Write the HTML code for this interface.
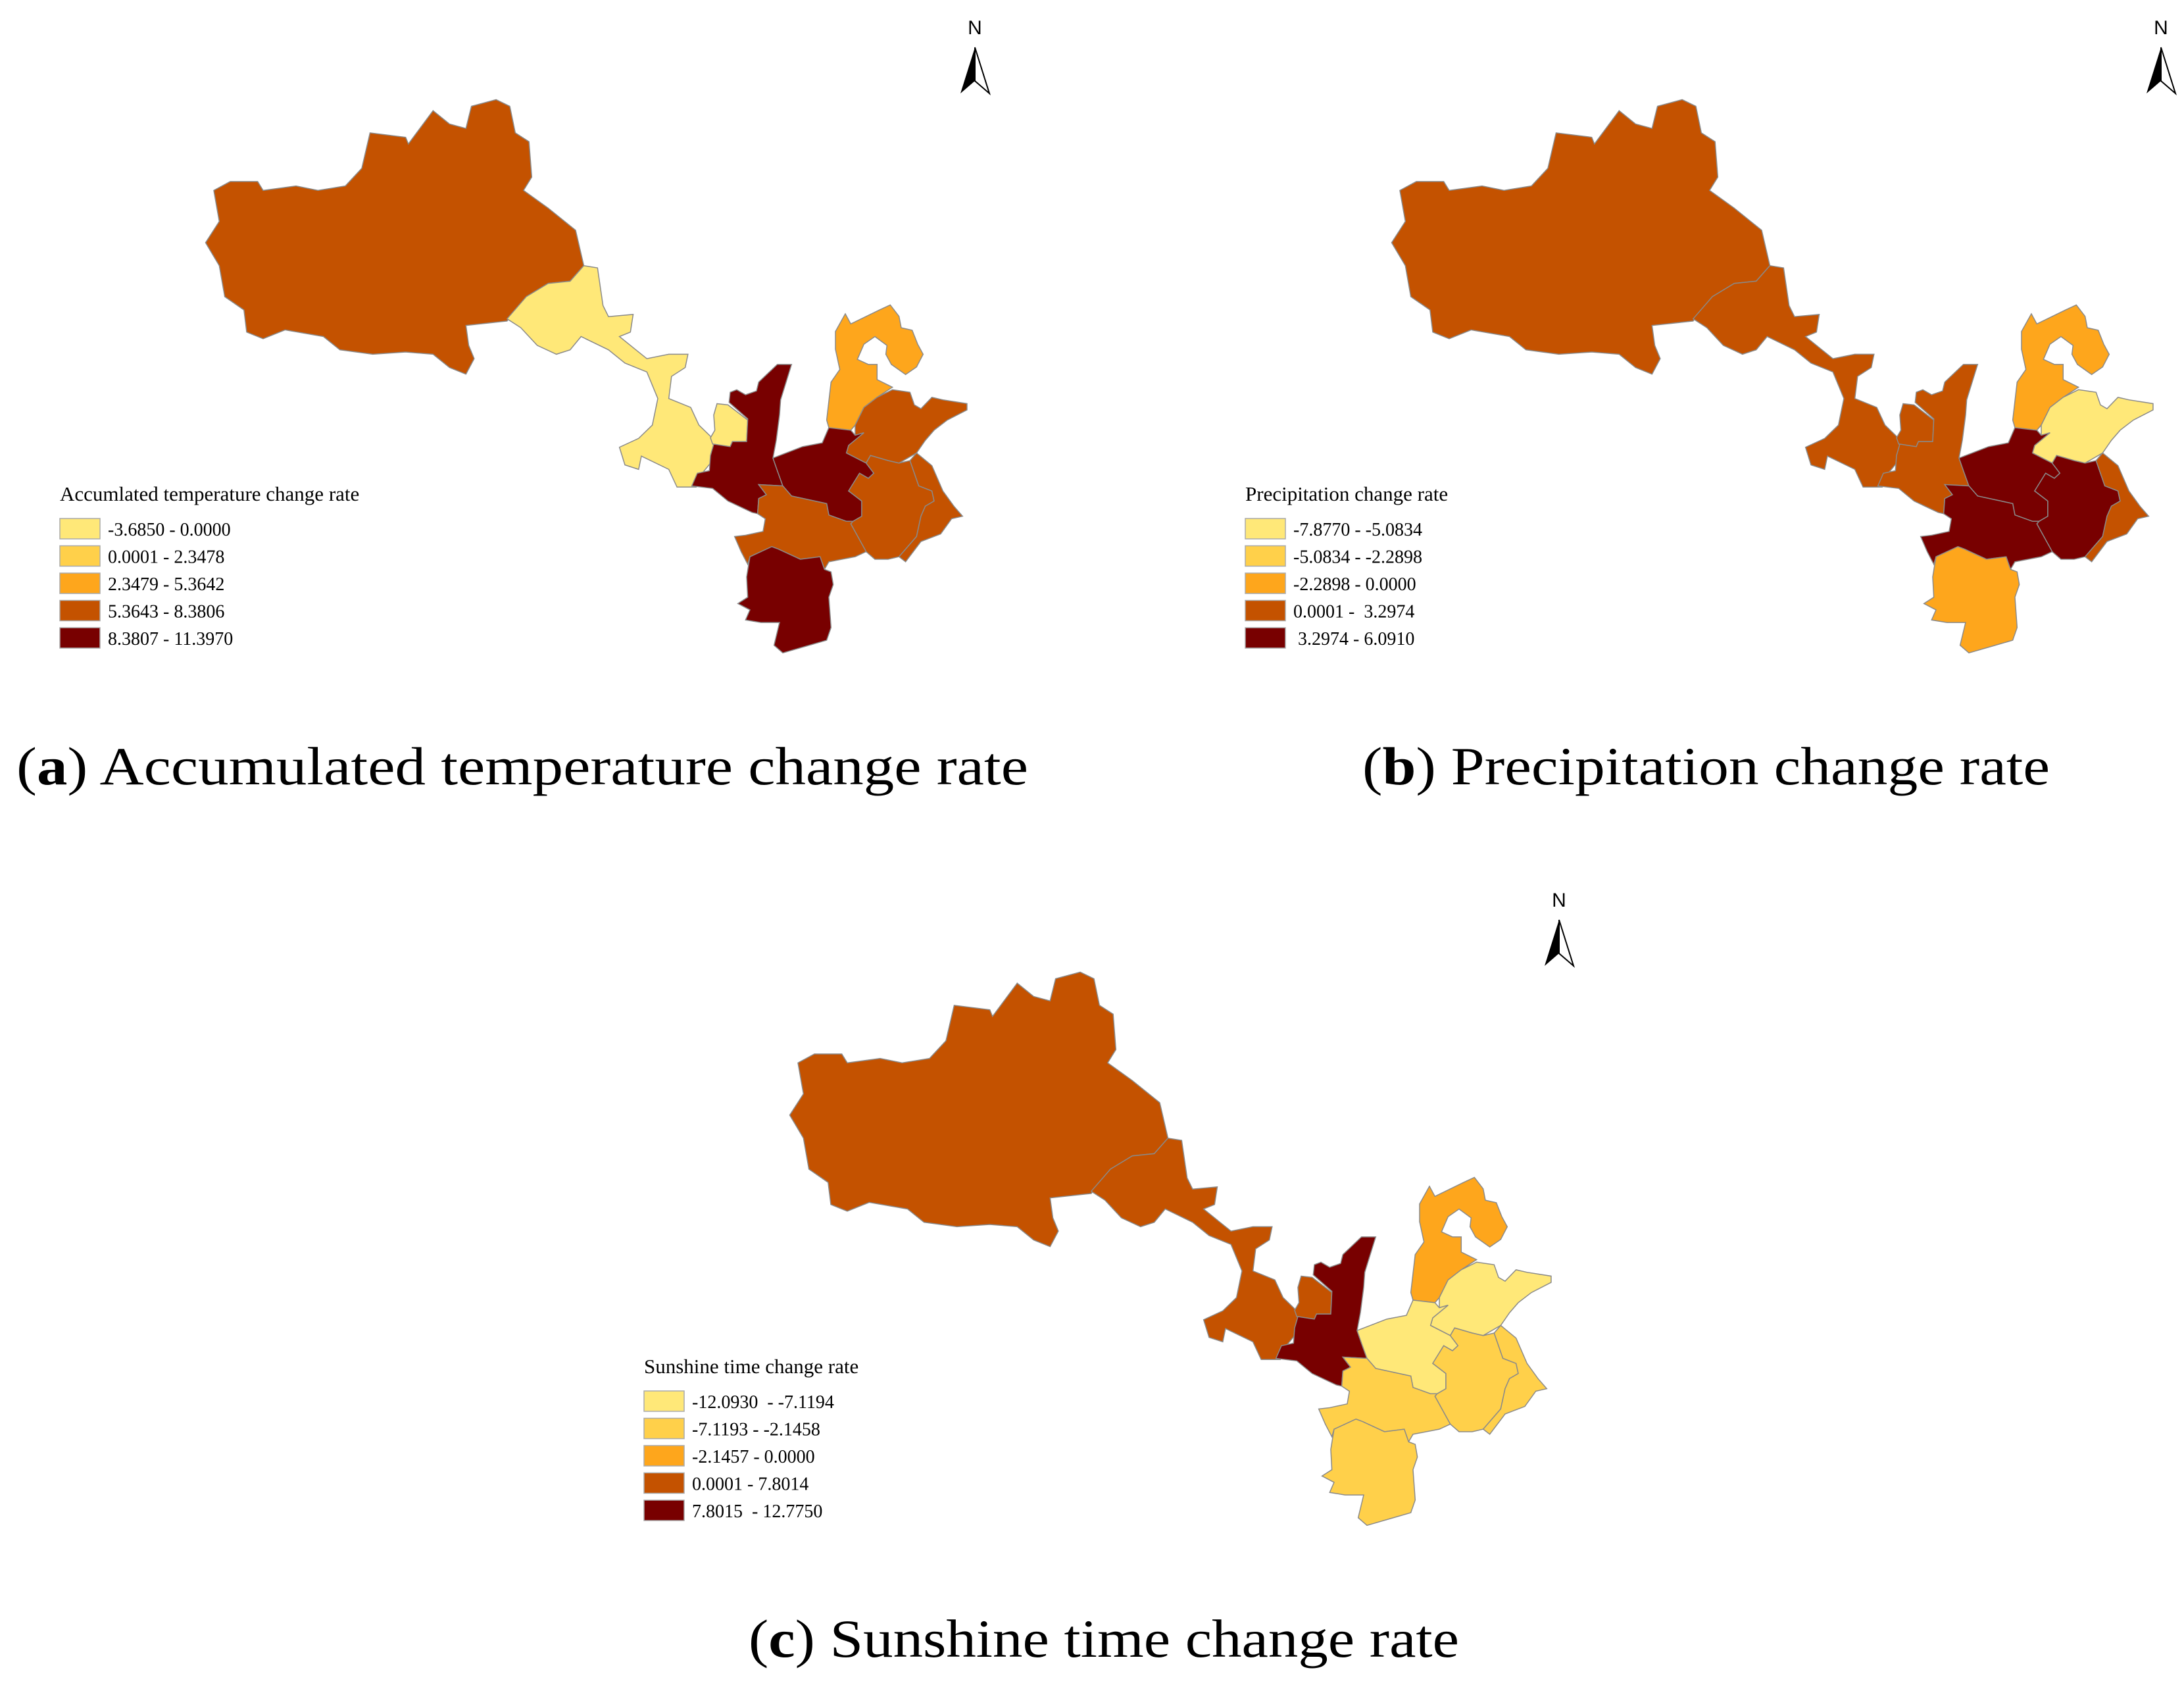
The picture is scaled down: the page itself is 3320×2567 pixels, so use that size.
<!DOCTYPE html>
<html><head><meta charset="utf-8"><style>
html,body{margin:0;padding:0;background:#fff;}
svg{display:block;}
text{font-family:"Liberation Serif",serif;fill:#000;}
</style></head><body>
<svg id="fig" width="3320" height="2567" viewBox="0 0 3320 2567" xmlns="http://www.w3.org/2000/svg">
<rect width="3320" height="2567" fill="#fff"/>
<defs>
<g id="arrow">
<text x="0" y="0" font-size="30" text-anchor="middle" style="font-family:'Liberation Sans',sans-serif">N</text>
<polygon points="0,20 -22,90 0,71" fill="#000"/>
<polygon points="0,20 22,90 0,71" fill="#fff" stroke="#000" stroke-width="2"/>
</g>
</defs>
</svg>
<script>
const colors = ['#ffe878','#ffd04a','#fea61c','#c45200','#780000'];
const regionNames = ['qinghai','gansu','ningxia','shaanxi','hebei','shandong','henan','east-west','east-east','south-central','south'];
const classA = [3,0,0,4,2,3,4,3,3,3,4];
const classB = [3,3,3,3,2,0,4,4,3,4,2];
const classC = [3,3,3,4,2,0,0,1,1,1,1];
const legendA = ['-3.6850 - 0.0000','0.0001 - 2.3478','2.3479 - 5.3642','5.3643 - 8.3806','8.3807 - 11.3970'];
const legendB = ['-7.8770 - -5.0834','-5.0834 - -2.2898','-2.2898 - 0.0000','0.0001 -  3.2974',' 3.2974 - 6.0910'];
const legendC = ['-12.0930  - -7.1194','-7.1193 - -2.1458','-2.1457 - 0.0000','0.0001 - 7.8014','7.8015  - 12.7750'];

// shapes: [frame, points]; frame 1 = zoom1 coords, frame 2 = zoom2 coords
const shapes = [
 [1,'75,548 100,500 90,430 120,410 170,410 180,430 240,420 280,430 330,420 360,380 375,300 440,310 445,325 490,250 520,280 550,290 560,240 605,225 630,240 640,300 665,320 670,400 655,430 700,470 750,520 765,600 740,635 700,640 660,670 625,725 550,735 555,780 565,810 550,845 520,830 490,800 440,795 380,800 320,790 290,760 220,745 180,765 150,750 145,700 110,670 100,600'],
 [1,'625,720 660,670 700,640 740,635 765,600 790,605 800,690 810,715 855,710 850,750 830,760 860,790 880,810 920,800 955,800 950,830 925,850 920,900 960,920 975,960 1000,990 1010,950 1015,920 1050,935 1070,990 1060,1000 1005,1000 1000,1040 980,1070 970,1100 935,1100 920,1060 870,1030 865,1060 840,1050 830,1010 865,990 890,960 900,900 880,840 840,820 810,790 760,760 740,790 715,800 680,780 650,740'],
 [2,'270,555 320,560 410,620 405,705 340,705 330,725 250,715 240,690 260,660 255,600'],
 [2,'330,510 325,550 410,615 405,705 340,705 330,725 255,715 240,760 235,820 180,830 155,880 250,890 320,940 430,985 455,990 460,930 495,915 460,875 570,880 545,820 525,770 540,700 555,600 560,540 610,400 545,400 460,470 450,505 400,520 360,500'],
 [2,'770,620 790,470 830,420 810,340 810,270 855,200 880,240 1010,185 1060,165 1100,210 1110,255 1160,265 1185,320 1210,360 1180,410 1130,440 1065,400 1040,360 1045,325 990,290 940,320 910,380 960,400 1000,400 1000,460 1070,490 1000,530 940,570 900,640 880,660 780,650'],
 [2,'900,640 940,570 1000,530 1070,500 1150,510 1170,560 1200,575 1250,530 1300,540 1410,555 1410,580 1320,620 1260,660 1220,700 1180,750 1100,790 1050,780 970,760 950,790 860,750 870,720 940,670 900,680'],
 [2,'525,770 600,745 660,725 750,710 780,650 880,660 900,680 940,670 870,720 860,750 950,790 985,830 960,850 920,830 870,900 930,940 930,1000 890,1020 860,1020 780,995 770,950 610,920 570,880 545,820'],
 [2,'950,790 985,830 960,850 920,830 870,900 930,940 930,1000 890,1020 880,1030 950,1140 990,1170 1050,1170 1100,1160 1180,1080 1200,1000 1220,960 1260,940 1250,900 1190,880 1150,780 1100,790 1050,780 970,760'],
 [2,'1150,780 1180,750 1250,800 1300,900 1350,960 1390,1000 1340,1010 1290,1070 1200,1100 1130,1180 1100,1160 1180,1080 1200,1000 1220,960 1260,940 1250,900 1190,880'],
 [2,'460,875 570,880 610,920 770,950 780,995 860,1020 890,1020 880,1030 950,1140 900,1160 780,1180 760,1210 740,1160 650,1170 550,1130 520,1120 420,1160 410,1190 380,1140 350,1080 400,1075 480,1060 490,1010 455,990 460,930 495,915'],
 [2,'420,1160 520,1120 550,1130 650,1170 740,1160 760,1210 790,1220 800,1270 780,1320 790,1440 770,1490 690,1510 570,1540 530,1510 555,1420 470,1420 400,1410 420,1370 365,1345 410,1320 405,1240']
];
const NS='http://www.w3.org/2000/svg';
const svg=document.getElementById('fig');
function mk(tag,attrs,parent){const e=document.createElementNS(NS,tag);for(const k in attrs)e.setAttribute(k,attrs[k]);(parent||svg).appendChild(e);return e;}
const frames={1:'translate(250,0) scale(0.8333,0.673)',2:'translate(1000,400) scale(0.3333,0.3846)'};
const drawOrder=[0,1,2,3,4,5,6,7,8,9,10];
const panels=[
 {key:'a',dx:0,dy:0,cls:classA,leg:legendA,title:'Accumlated temperature change rate',cap:' Accumulated temperature change rate',capX:25,capW:1538,capY:1192},
 {key:'b',dx:1803,dy:0,cls:classB,leg:legendB,title:'Precipitation change rate',cap:' Precipitation change rate',capX:2071,capW:1045,capY:1192},
 {key:'c',dx:888,dy:1326,cls:classC,leg:legendC,title:'Sunshine time change rate',cap:' Sunshine time change rate',capX:1138,capW:1080,capY:2518}
];
panels.forEach(p=>{
 const g=mk('g',{transform:`translate(${p.dx},${p.dy})`});
 
 
 drawOrder.forEach(i=>{
  const s=shapes[i];
  const sub=mk('g',{transform:frames[s[0]]},g);
  const poly=mk('polygon',{points:s[1],fill:colors[p.cls[i]],stroke:'#8a8a8a','stroke-width':'1.5','vector-effect':'non-scaling-stroke'},sub);
  
  
 });
 const ar=mk('use',{href:'#arrow',transform:'translate(1482,52)'},g);
 
 
 // legend
 const lg=mk('g',{},g);
 
 
 const lx = p.key==='a'?91:(p.key==='b'?1893-p.dx:979-p.dx);
 const ly = p.key==='c'?2078-1326-750+750:750;
 const t=mk('text',{x:lx,y:761,'font-size':31},lg);
 t.textContent=p.title;
 
 
 p.leg.forEach((lab,k)=>{
  const r=mk('rect',{x:lx,y:788+k*41.5,width:61,height:31,fill:colors[k],stroke:'#aaa','stroke-width':1.5},lg);
  
  
  const tx=mk('text',{x:lx+73,y:814+k*41.5,'font-size':28,'xml:space':'preserve'},lg);
  tx.style.whiteSpace='pre';
  tx.textContent=lab;
  
  
 });
 // caption
 const c=mk('text',{x:p.capX,y:p.capY,'font-size':82,textLength:p.capW,lengthAdjust:'spacingAndGlyphs'});
 
 
 const s1=mk('tspan',{},c);s1.textContent='(';
 const s2=mk('tspan',{'font-weight':'bold'},c);s2.textContent=p.key;
 const s3=mk('tspan',{},c);s3.textContent=')'+p.cap;
});
</script>
</body></html>
